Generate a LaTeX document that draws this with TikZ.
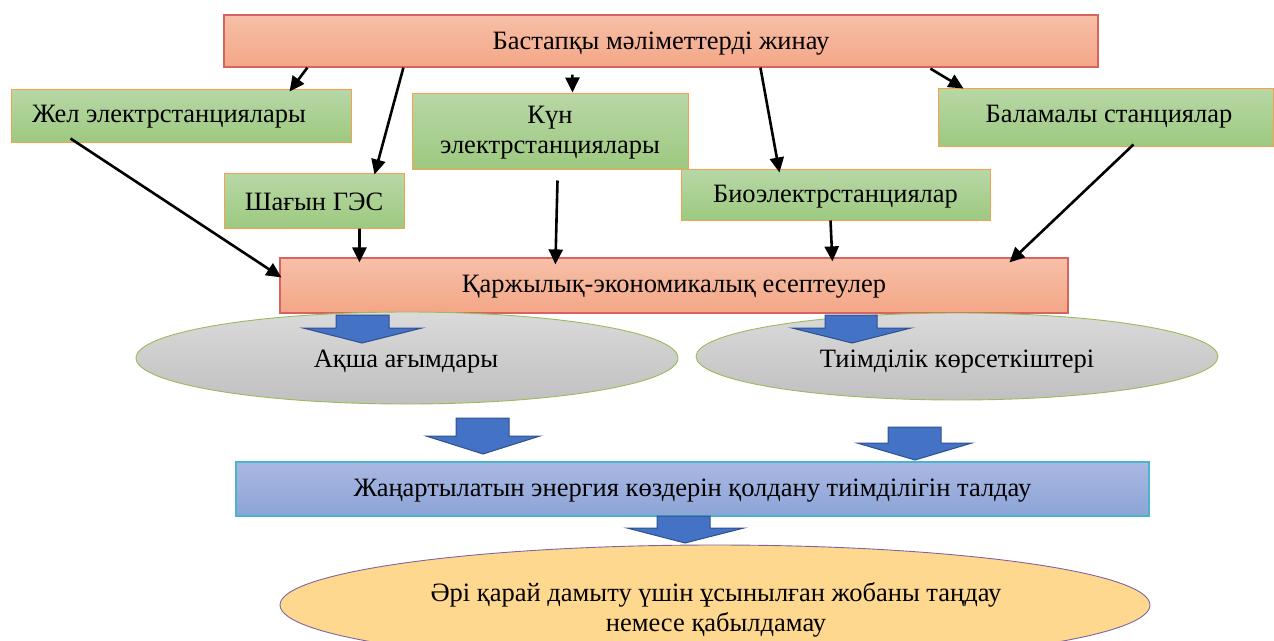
\documentclass[tikz,border=0pt]{standalone}
\usepackage{fontspec}
\setmainfont{Liberation Serif}
\usetikzlibrary{shapes.geometric,calc,arrows.meta}
\definecolor{redtop}{RGB}{246,192,168}
\definecolor{redbot}{RGB}{244,166,134}
\definecolor{redline}{RGB}{215,100,95}
\definecolor{greentop}{RGB}{184,215,166}
\definecolor{greenbot}{RGB}{157,201,128}
\definecolor{greenline}{RGB}{247,160,80}
\definecolor{graytop}{RGB}{218,218,218}
\definecolor{graybot}{RGB}{192,192,192}
\definecolor{grayline}{RGB}{155,187,89}
\definecolor{bluetop}{RGB}{170,184,226}
\definecolor{bluebot}{RGB}{140,164,215}
\definecolor{blueline}{RGB}{75,180,205}
\definecolor{arrowfill}{RGB}{68,114,196}
\definecolor{arrowline}{RGB}{47,82,143}
\definecolor{orangefill}{RGB}{254,216,142}
\definecolor{orangeline}{RGB}{128,100,162}
\begin{document}
\begin{tikzpicture}[x=1pt,y=-1pt,
  txt/.style={font=\fontsize{26.5}{30}\selectfont, text=black, inner sep=0pt},
  box/.style={txt, rectangle, line width=1pt},
  redbox/.style={box, draw=redline, line width=1.2pt, top color=redtop, bottom color=redbot},
  greenbox/.style={box, draw=greenline, top color=greentop, bottom color=greenbot},
  bluebox/.style={box, draw=blueline, line width=1.5pt, top color=bluetop, bottom color=bluebot},
  grayell/.style={ellipse, draw=grayline, line width=0.9pt, top color=graytop, bottom color=graybot, inner sep=0pt},
  orangeell/.style={ellipse, draw=orangeline, line width=0.9pt, fill=orangefill, inner sep=0pt},
  conn/.style={draw=black, line width=2.6pt, -{Triangle[length=15pt,width=14pt]}},
  blockarrow/.style={fill=arrowfill, draw=arrowline, line width=1pt, line join=miter}
]
\useasboundingbox (0,0) rectangle (1274,640);

% boxes
\node[redbox, minimum width=874pt, minimum height=52pt] (top) at (661,41) {};
\node[txt] (toptxt) at (661,44) {Бастапқы мәліметтерді жинау};
\node[greenbox, minimum width=340pt, minimum height=53pt] (zhel) at (181,115.5) {};
\node[txt, anchor=west] (zheltxt) at (32,117) {Жел электрстанциялары};
\node[greenbox, minimum width=180pt, minimum height=55pt] (shagyn) at (314,200.5) {};
\node[txt] (shagyntxt) at (314,202) {Шағын ГЭС};
\node[greenbox, minimum width=276pt, minimum height=76pt] (kun) at (550,131) {};
\node[txt, align=center] (kuntxt) at (550,133) {Күн\\электрстанциялары};
\node[greenbox, minimum width=309pt, minimum height=51pt] (bio) at (835.5,194.5) {};
\node[txt] (biotxt) at (835.5,197) {Биоэлектрстанциялар};
\node[greenbox, minimum width=335pt, minimum height=58pt] (balam) at (1105.5,117) {};
\node[txt] (balamtxt) at (1109,117) {Баламалы станциялар};
\node[redbox, minimum width=788pt, minimum height=55pt] (karzh) at (674,285.5) {};
\node[txt] (karzhtxt) at (674,287) {Қаржылық-экономикалық есептеулер};

% connectors
\draw[conn] ($(top.south west)+(84,0)$) -- ($(zhel.north west)+(279,3)$);
\draw[conn] ($(top.south west)+(180,0)$) -- ($(shagyn.north west)+(151,2)$);
\draw[conn] ($(top.south west)+(349,7)$) -- ($(kun.north west)+(161,0)$);
\draw[conn] ($(top.south west)+(537,0)$) -- ($(bio.north west)+(99,4)$);
\draw[conn] ($(top.south west)+(707,1)$) -- ($(balam.north west)+(26,1)$);
\draw[conn] ($(zhel.south west)+(60,-4)$) -- ($(karzh.north west)+(2,20)$);
\draw[conn] ($(shagyn.south west)+(136,0)$) -- ($(karzh.north west)+(80,5)$);
\draw[conn] ($(kun.south west)+(146,11)$) -- ($(karzh.north west)+(276,7)$);
\draw[conn] ($(bio.south west)+(150,0)$) -- ($(karzh.north west)+(553,4)$);
\draw[conn] ($(balam.south west)+(196,-2)$) -- ($(karzh.north west)+(730,5)$);

% ellipses
\node[grayell, minimum width=542pt, minimum height=92pt] (aksha) at (407,358) {};
\node[txt] (akshatxt) at (406,362) {Ақша ағымдары};
\node[grayell, minimum width=522pt, minimum height=87pt] (tiim) at (957,356.5) {};
\node[txt] (tiimtxt) at (957,362) {Тиімділік көрсеткіштері};

\node[bluebox, minimum width=913pt, minimum height=54pt] (talda) at (692.5,489) {};
\node[txt] (taldatxt) at (692.5,491) {Жаңартылатын энергия көздерін қолдану тиімділігін талдау};

\node[orangeell, minimum width=870pt, minimum height=120pt] (final) at (715,605) {};
\node[txt, align=center] (finaltxt) at (716,610) {Әрі қарай дамыту үшін ұсынылған жобаны таңдау\\немесе қабылдамау};

% block arrows
\path[blockarrow] (336,315)--(389,315)--(389,328)--(422,328)--(362,343)--(303,328)--(336,328)--cycle;
\path[blockarrow] (825,315)--(877,315)--(877,328)--(911,328)--(852,343)--(792,328)--(825,328)--cycle;
\path[blockarrow] (456,418)--(509,418)--(509,436)--(540,436)--(483,454)--(426,436)--(456,436)--cycle;
\path[blockarrow] (888,427)--(941,427)--(941,443)--(972,443)--(915,460)--(857,443)--(888,443)--cycle;
\path[blockarrow] (657,516)--(710,516)--(710,528)--(744,528)--(685,543)--(627,528)--(657,528)--cycle;
\end{tikzpicture}
\end{document}
